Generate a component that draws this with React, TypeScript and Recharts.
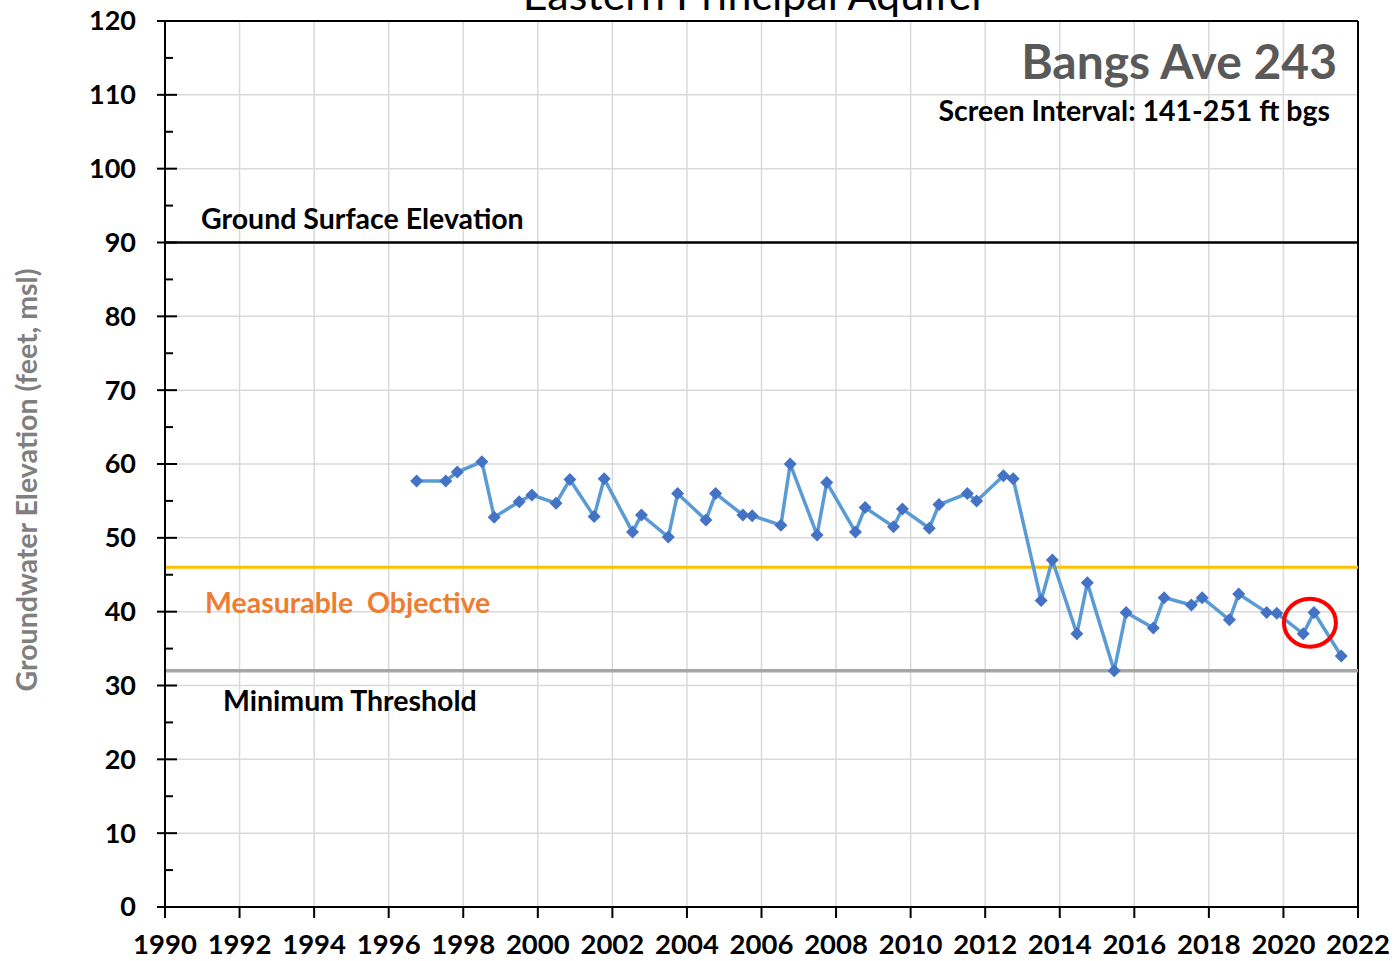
import { CartesianGrid, Line, LineChart, ReferenceDot, ReferenceLine, XAxis, YAxis } from 'recharts';

const sampleYears = [
  1996.75, 1997.53, 1997.84, 1998.5, 1998.83, 1999.5, 1999.84, 2000.49, 2000.86, 2001.51,
  2001.78, 2002.54, 2002.78, 2003.5, 2003.75, 2004.51, 2004.77, 2005.5, 2005.75, 2006.52,
  2006.77, 2007.49, 2007.75, 2008.52, 2008.78, 2009.54, 2009.78, 2010.5, 2010.76, 2011.52,
  2011.77, 2012.49, 2012.75, 2013.5, 2013.8, 2014.46, 2014.74, 2015.46, 2015.78, 2016.51,
  2016.8, 2017.53, 2017.82, 2018.55, 2018.8, 2019.55, 2019.82, 2020.53, 2020.82, 2021.55
];

const waterLevels = [
  57.7, 57.7, 58.9, 60.3, 52.8, 54.9, 55.8, 54.7, 57.9, 52.9,
  58.0, 50.8, 53.1, 50.1, 56.0, 52.4, 56.0, 53.1, 53.0, 51.7,
  60.0, 50.4, 57.5, 50.8, 54.1, 51.5, 53.9, 51.3, 54.5, 56.0,
  55.0, 58.4, 58.0, 41.5, 47.0, 37.0, 43.9, 32.0, 39.9, 37.8,
  41.9, 40.9, 41.9, 38.9, 42.4, 39.9, 39.8, 37.0, 39.9, 34.0
];

const yearTicks = [1990, 1992, 1994, 1996, 1998, 2000, 2002, 2004, 2006, 2008, 2010, 2012, 2014, 2016, 2018, 2020, 2022];
const elevationTicks = [0, 5, 10, 15, 20, 25, 30, 35, 40, 45, 50, 55, 60, 65, 70, 75, 80, 85, 90, 95, 100, 105, 110, 115, 120];
const gridValues = [0, 10, 20, 30, 40, 50, 60, 70, 80, 90, 100, 110, 120];

const groundSurface = 90;
const measurableObjective = 46;
const minimumThreshold = 32;
const highlighted = { year: 2020.71, level: 38.5 };

const data = sampleYears.map((year, i) => ({ year, level: waterLevels[i] }));

const FONT = "Lato, 'Open Sans', sans-serif";

function YTick(props: any) {
  const { x, y, payload } = props;
  const major = payload.value % 10 === 0;
  return (
    <g>
      <line x1={major ? x - 8 : x} x2={major ? x + 12 : x + 8} y1={y} y2={y} stroke="#000" strokeWidth={2} />
      {major && (
        <text x={x - 29} y={y} dy="0.35em" textAnchor="end" fontFamily={FONT} fontWeight={700} fontSize={27} fill="#000">
          {payload.value}
        </text>
      )}
    </g>
  );
}

function XTick(props: any) {
  const { x, y, payload } = props;
  return (
    <g>
      <line x1={x} x2={x} y1={y} y2={y + 11} stroke="#000" strokeWidth={2} />
      <text x={x} y={y + 47} textAnchor="middle" fontFamily={FONT} fontWeight={700} fontSize={27.5} fill="#000">
        {payload.value}
      </text>
    </g>
  );
}

function Diamond(props: any) {
  const { cx, cy } = props;
  if (cx == null || cy == null) return null;
  const r = 6.5;
  return <polygon points={`${cx},${cy - r} ${cx + r},${cy} ${cx},${cy + r} ${cx - r},${cy}`} fill="#4472C4" />;
}

function Ring(props: any) {
  const { cx, cy } = props;
  return <ellipse cx={cx} cy={cy} rx={26} ry={24} fill="none" stroke="#FF0000" strokeWidth={4} />;
}

export default function App() {
  return (
    <div style={{ position: 'absolute', left: 0, top: 0, width: 1394, height: 961, background: '#fff' }}>
      <LineChart width={1394} height={961} data={data} margin={{ top: 21, right: 36, bottom: 0, left: 0 }}>
        <CartesianGrid stroke="#D9D9D9" strokeWidth={1.5} horizontalValues={gridValues} />
        <XAxis
          type="number"
          dataKey="year"
          domain={[1990, 2022]}
          ticks={yearTicks}
          height={54}
          tickSize={0}
          tickMargin={0}
          tick={<XTick />}
          axisLine={{ stroke: '#000', strokeWidth: 2 }}
          tickLine={false}
        />
        <YAxis
          type="number"
          domain={[0, 120]}
          ticks={elevationTicks}
          width={165}
          tickSize={0}
          tickMargin={0}
          tick={<YTick />}
          interval={0}
          axisLine={{ stroke: '#000', strokeWidth: 2 }}
          tickLine={false}
        />
        <ReferenceLine y={120} stroke="#000" strokeWidth={2} />
        <ReferenceLine x={2022} stroke="#000" strokeWidth={2} />
        <ReferenceLine y={groundSurface} stroke="#000" strokeWidth={2.5} />
        <ReferenceLine y={measurableObjective} stroke="#FFC000" strokeWidth={3} />
        <ReferenceLine y={minimumThreshold} stroke="#A6A6A6" strokeWidth={3.5} />
        <Line
          dataKey="level"
          stroke="#5B9BD5"
          strokeWidth={3.5}
          dot={<Diamond />}
          activeDot={false}
          isAnimationActive={false}
        />
        <ReferenceDot x={highlighted.year} y={highlighted.level} shape={<Ring />} />
      </LineChart>
      <svg width={1394} height={961} style={{ position: 'absolute', left: 0, top: 0, pointerEvents: 'none' }}>
        <text x={755} y={10} textAnchor="middle" fontFamily={FONT} fontSize={43} fill="#000">
          Eastern Principal Aquifer
        </text>
        <text x={1337} y={79} textAnchor="end" fontFamily={FONT} fontWeight={700} fontSize={48} fill="#595959">
          Bangs Ave 243
        </text>
        <text x={1330} y={121} textAnchor="end" fontFamily={FONT} fontWeight={700} fontSize={28.5} fill="#000">
          Screen Interval: 141-251 ft bgs
        </text>
        <text x={201} y={229} fontFamily={FONT} fontWeight={700} fontSize={28.5} fill="#000">
          Ground Surface Elevation
        </text>
        <text x={205} y={613} fontFamily={FONT} fontWeight={700} fontSize={28.5} fill="#ED7D31" style={{ whiteSpace: 'pre' }}>
          {'Measurable  Objective'}
        </text>
        <text x={223} y={711} fontFamily={FONT} fontWeight={700} fontSize={28.5} fill="#000">
          Minimum Threshold
        </text>
        <text
          x={37}
          y={480}
          transform="rotate(-90, 37, 480)"
          textAnchor="middle"
          fontFamily={FONT}
          fontWeight={700}
          fontSize={28.5}
          fill="#7F7F7F"
        >
          Groundwater Elevation (feet, msl)
        </text>
      </svg>
    </div>
  );
}
